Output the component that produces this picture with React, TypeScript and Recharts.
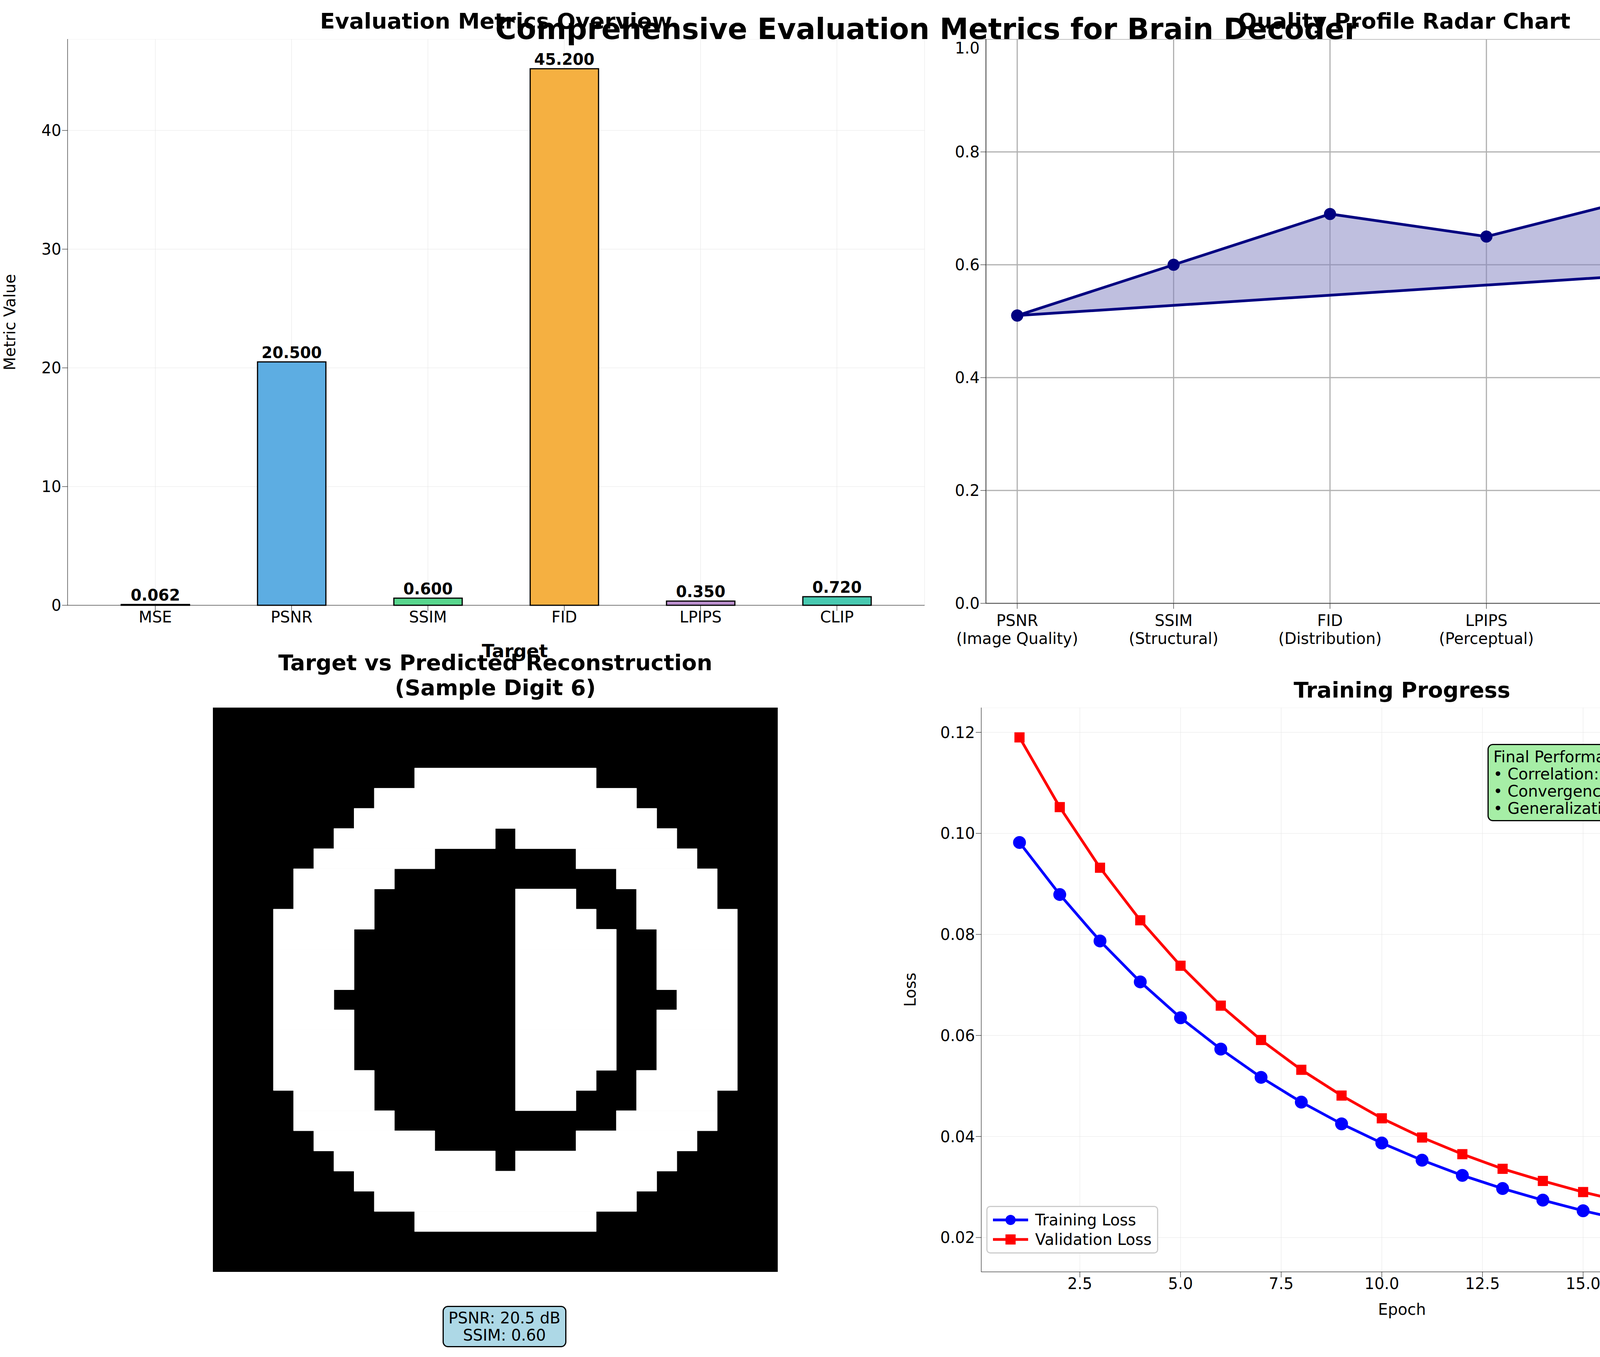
import React from 'react';
import {
  BarChart, Bar, XAxis, YAxis, CartesianGrid, LabelList, Cell,
  ComposedChart, Line, Area, LineChart, ScatterChart, Scatter, ReferenceArea,
} from 'recharts';

const metricNames = ['MSE', 'PSNR', 'SSIM', 'FID', 'LPIPS', 'CLIP'];
const metricValues = [0.062, 20.5, 0.6, 45.2, 0.35, 0.72];
const metricColors = ['#e74c3c', '#5dade2', '#58d68d', '#f5b041', '#bb8fce', '#48c9b0'];

const radarLabels = [
  ['PSNR', '(Image Quality)'], ['SSIM', '(Structural)'], ['FID', '(Distribution)'],
  ['LPIPS', '(Perceptual)'], ['CLIP', '(Semantic)'], ['Correlation', '(Overall)'],
];
const radarScores = [0.51, 0.6, 0.69, 0.65, 0.72, 0.6];

const epochs = [1, 2, 3, 4, 5, 6, 7, 8, 9, 10, 11, 12, 13, 14, 15, 16, 17, 18, 19, 20];
const trainLoss = [0.0982, 0.0879, 0.0787, 0.0706, 0.0635, 0.0573, 0.0517, 0.0468, 0.0425, 0.0387,
  0.0353, 0.0323, 0.0297, 0.0274, 0.0253, 0.0235, 0.0219, 0.0205, 0.0193, 0.0182];
const valLoss = [0.119, 0.1052, 0.0932, 0.0828, 0.0738, 0.0659, 0.0591, 0.0532, 0.0481, 0.0436,
  0.0398, 0.0365, 0.0336, 0.0312, 0.029, 0.0271, 0.0255, 0.0241, 0.0229, 0.0219];

// white pixel runs per row of the 28x28 digit: [row, colStart, colEnd)
const digitRuns: [number, number, number][] = [
  [3, 10, 19], [4, 8, 21], [5, 7, 22], [6, 6, 14], [6, 15, 23],
  [7, 5, 11], [7, 18, 24], [8, 4, 9], [8, 20, 25],
  [9, 4, 8], [9, 15, 18], [9, 21, 25], [10, 3, 8], [10, 15, 19], [10, 21, 26],
  [11, 3, 7], [11, 15, 20], [11, 22, 26], [12, 3, 7], [12, 15, 20], [12, 22, 26],
  [13, 3, 7], [13, 15, 20], [13, 22, 26], [14, 3, 6], [14, 15, 20], [14, 23, 26],
  [15, 3, 7], [15, 15, 20], [15, 22, 26], [16, 3, 7], [16, 15, 20], [16, 22, 26],
  [17, 3, 7], [17, 15, 20], [17, 22, 26], [18, 3, 8], [18, 15, 19], [18, 21, 26],
  [19, 4, 8], [19, 15, 18], [19, 21, 25], [20, 4, 9], [20, 20, 25],
  [21, 5, 11], [21, 18, 24], [22, 6, 14], [22, 15, 23], [23, 7, 22], [24, 8, 21], [25, 10, 19],
];

const FONT = 'DejaVu Sans, sans-serif';
const TICK = { fill: '#000', fontSize: 40, fontFamily: FONT };
const TITLE: React.CSSProperties = { position: 'absolute', fontFamily: FONT, fontWeight: 'bold', fontSize: 56, transform: 'translateX(-50%)', whiteSpace: 'nowrap', textAlign: 'center', lineHeight: 1.15 };

const barData = metricNames.map((n, i) => ({ name: n, value: metricValues[i] }));
const baseStart = radarScores[0], baseEnd = radarScores[radarScores.length - 1];
const radarData = radarScores.map((v, i) => ({
  x: i, v, range: [baseStart + (baseEnd - baseStart) * i / (radarScores.length - 1), v],
}));
const radarClosed = [...radarData, { x: 0, v: radarScores[0] }];
const lossData = epochs.map((e, i) => ({ epoch: e, train: trainLoss[i], val: valLoss[i] }));

const RadarTick = (p: any) => {
  const lab = radarLabels[p.payload.value] || ['', ''];
  return (
    <text x={p.x} y={p.y + 30} textAnchor="middle" fontSize={40} fontFamily={FONT} fill="#000">
      <tspan x={p.x} dy={12}>{lab[0]}</tspan>
      <tspan x={p.x} dy={46}>{lab[1]}</tspan>
    </text>
  );
};

function MetricsBar() {
  return (
    <div style={{ position: 'absolute', left: 0, top: 100 }}>
      <BarChart width={2377} height={1600} data={barData} margin={{ top: 0, right: 10, bottom: 0, left: 0 }} barCategoryGap="25%">
        <CartesianGrid stroke="#e6e6e6" />
        <XAxis dataKey="name" tick={TICK} tickSize={14} stroke="#000" height={150} padding={{ left: 50, right: 50 }} />
        <YAxis domain={[0, 47.7]} ticks={[0, 10, 20, 30, 40]} tick={TICK} tickSize={14} stroke="#000" width={173}
          label={{ value: 'Metric Value', angle: -90, position: 'insideLeft', dx: 20, style: { fontSize: 40, fontFamily: FONT, fill: '#000', textAnchor: 'middle' } }} />
        <Bar dataKey="value" stroke="#000" strokeWidth={3} isAnimationActive={false}>
          {barData.map((d, i) => <Cell key={d.name} fill={metricColors[i]} />)}
          <LabelList dataKey="value" position="top" offset={10} formatter={(v: any) => Number(v).toFixed(3)}
            style={{ fontSize: 40, fontWeight: 'bold', fontFamily: FONT, fill: '#000' }} />
        </Bar>
      </BarChart>
    </div>
  );
}

function QualityProfile() {
  return (
    <div style={{ position: 'absolute', left: 2350, top: 100 }}>
      <ComposedChart width={2326} height={1650} data={radarData} margin={{ top: 0, right: 10, bottom: 0, left: 0 }}>
        <CartesianGrid stroke="#b0b0b0" strokeWidth={3} />
        <XAxis dataKey="x" type="number" domain={[-0.2, 5.15]} ticks={[0, 1, 2, 3, 4, 5]} tick={<RadarTick />} tickSize={14} stroke="#000" height={205} allowDuplicatedCategory />
        <YAxis domain={[0, 1]} ticks={[0, 0.2, 0.4, 0.6, 0.8, 1]} tickFormatter={(v: number) => v.toFixed(1)} tick={TICK} tickSize={14} stroke="#000" width={174} />
        <Area dataKey="range" type="linear" fill="#8080c0" fillOpacity={0.5} stroke="none" isAnimationActive={false} />
        <Line data={radarClosed} dataKey="v" type="linear" stroke="#000080" strokeWidth={7} isAnimationActive={false}
          dot={{ r: 12, fill: '#000080', stroke: '#000080' }} />
      </ComposedChart>
    </div>
  );
}

function DigitImage() {
  const cells = digitRuns.map(([r, a]) => ({ x: a, y: r }));
  return (
    <div style={{ position: 'absolute', left: 545, top: 1812 }}>
      <ScatterChart width={1446} height={1445} margin={{ top: 0, right: 0, bottom: 0, left: 0 }}>
        <XAxis type="number" dataKey="x" domain={[0, 28]} hide />
        <YAxis type="number" dataKey="y" domain={[0, 28]} reversed hide />
        <ReferenceArea x1={0} x2={28} y1={0} y2={28} fill="#000" fillOpacity={1} stroke="none" />
        {digitRuns.map(([r, a, b], i) => (
          <ReferenceArea key={i} x1={a} x2={b} y1={r} y2={r + 1} fill="#fff" fillOpacity={1} stroke="#fff" strokeWidth={1} />
        ))}
        <Scatter data={cells} fill="none" shape={() => null} isAnimationActive={false} />
      </ScatterChart>
    </div>
  );
}

function TrainingProgress() {
  return (
    <div style={{ position: 'absolute', left: 2300, top: 1812 }}>
      <LineChart width={2376} height={1600} data={lossData} margin={{ top: 0, right: 10, bottom: 0, left: 0 }}>
        <CartesianGrid stroke="#e6e6e6" />
        <XAxis dataKey="epoch" type="number" domain={[0.05, 20.95]} ticks={[2.5, 5, 7.5, 10, 12.5, 15, 17.5, 20]}
          tickFormatter={(v: number) => v.toFixed(1)} tick={TICK} tickSize={14} stroke="#000" height={155}
          label={{ value: 'Epoch', position: 'insideBottom', dy: -40, style: { fontSize: 40, fontFamily: FONT, fill: '#000' } }} />
        <YAxis domain={[0.0132, 0.1249]} ticks={[0.02, 0.04, 0.06, 0.08, 0.1, 0.12]} tickFormatter={(v: number) => v.toFixed(2)}
          tick={TICK} tickSize={14} stroke="#000" width={212}
          label={{ value: 'Loss', angle: -90, position: 'insideLeft', dx: 25, style: { fontSize: 40, fontFamily: FONT, fill: '#000', textAnchor: 'middle' } }} />
        <Line dataKey="train" stroke="#0000ff" strokeWidth={7} isAnimationActive={false} type="linear"
          dot={{ r: 13, fill: '#0000ff', stroke: '#0000ff' }} />
        <Line dataKey="val" stroke="#ff0000" strokeWidth={7} isAnimationActive={false} type="linear"
          dot={(p: any) => <rect key={p.index} x={p.cx - 13} y={p.cy - 13} width={26} height={26} fill="#ff0000" />} />
      </LineChart>
    </div>
  );
}

export default function App() {
  const txt: React.CSSProperties = { fontFamily: FONT, fontSize: 40 };
  return (
    <div style={{ position: 'absolute', left: 0, top: 0, width: 4747, height: 3475, background: '#fff', overflow: 'hidden' }}>
      <MetricsBar />
      <QualityProfile />
      <DigitImage />
      <TrainingProgress />
      <div style={{ ...TITLE, left: 1270, top: 22 }}>Evaluation Metrics Overview</div>
      <div style={{ ...TITLE, left: 3595, top: 22 }}>Quality Profile Radar Chart</div>
      <div style={{ ...TITLE, left: 2373, top: 32, fontSize: 74 }}>Comprehensive Evaluation Metrics for Brain Decoder</div>
      <div style={{ ...TITLE, left: 1318, top: 1640, fontSize: 47 }}>Target</div>
      <div style={{ ...TITLE, left: 1268, top: 1665 }}>Target vs Predicted Reconstruction<br />(Sample Digit 6)</div>
      <div style={{ ...TITLE, left: 3589, top: 1735 }}>Training Progress</div>
      <div style={{ ...txt, position: 'absolute', left: 1133, top: 3344, background: '#add8e6', border: '3px solid #000', borderRadius: 14, padding: '6px 12px', textAlign: 'center', lineHeight: 1.1 }}>
        PSNR: 20.5 dB<br />SSIM: 0.60
      </div>
      <div style={{ ...txt, position: 'absolute', left: 3808, top: 1905, background: '#a6eea6', border: '3px solid #000', borderRadius: 14, padding: '8px 12px', lineHeight: 1.1, whiteSpace: 'nowrap' }}>
        Final Performance:<br />• Correlation: 0.5969<br />• Convergence: Excellent<br />• Generalization: Good
      </div>
      <div style={{ ...txt, position: 'absolute', left: 2525, top: 3088, background: '#fff', border: '3px solid #ccc', borderRadius: 10, padding: '8px 14px', lineHeight: 1.25 }}>
        {[['#0000ff', 'Training Loss', 'c'], ['#ff0000', 'Validation Loss', 's']].map(([c, l, m]) => (
          <div key={l} style={{ display: 'flex', alignItems: 'center' }}>
            <svg width={90} height={40} style={{ marginRight: 18 }}>
              <line x1={0} y1={20} x2={90} y2={20} stroke={c} strokeWidth={7} />
              {m === 'c' ? <circle cx={45} cy={20} r={13} fill={c} /> : <rect x={32} y={7} width={26} height={26} fill={c} />}
            </svg>
            {l}
          </div>
        ))}
      </div>
    </div>
  );
}
